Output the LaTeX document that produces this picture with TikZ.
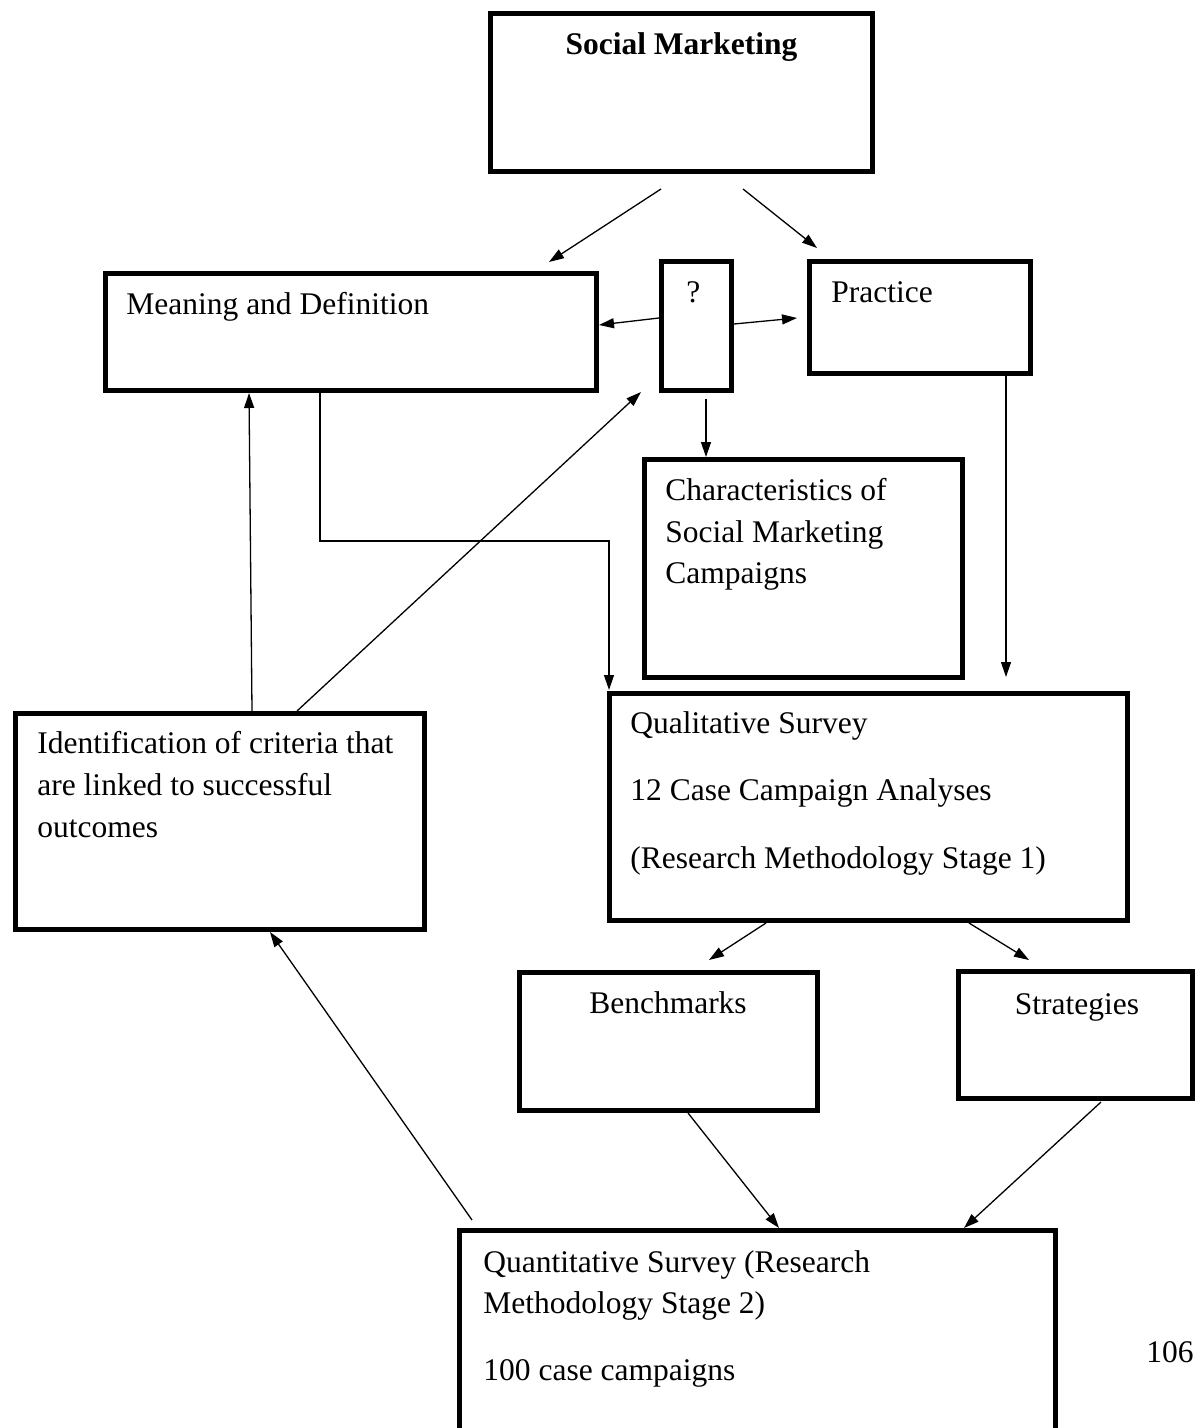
\documentclass[tikz,border=0pt]{standalone}
\usepackage{fontspec}
\setmainfont{Liberation Serif}
\usetikzlibrary{arrows.meta}
\begin{document}
\begin{tikzpicture}[x=0.5pt,y=-0.5pt,
  box/.style={draw, line width=2.4pt, inner sep=0pt, rectangle},
  lbl/.style={inner sep=0pt, font=\fontsize{15.75}{19}\selectfont},
  conn/.style={line width=0.65pt, -{Triangle[length=7.5pt,width=5pt]}}]
\useasboundingbox (0,0) rectangle (1195,1428);
\clip (0,0) rectangle (1195,1428);
% boxes
\node[box, minimum width=191pt, minimum height=79pt] (social) at (681.5,92.5) {};
\node[box, minimum width=245.5pt, minimum height=58.5pt] (meaning) at (351,332) {};
\node[box, minimum width=35pt, minimum height=64.5pt] (q) at (696.5,326) {};
\node[box, minimum width=110.5pt, minimum height=56pt] (practice) at (920,317.5) {};
\node[box, minimum width=159pt, minimum height=109pt] (charac) at (803.5,568.5) {};
\node[box, minimum width=204.5pt, minimum height=108pt] (ident) at (220,821.5) {};
\node[box, minimum width=259pt, minimum height=113.5pt] (qual) at (868.5,807) {};
\node[box, minimum width=149pt, minimum height=69pt] (bench) at (668.5,1041.5) {};
\node[box, minimum width=117pt, minimum height=63.6pt] (strat) at (1075.5,1035) {};
\node[box, minimum width=298pt, minimum height=114.8pt] (quant) at (757.5,1345.2) {};
% texts
\node[lbl, anchor=base, font=\fontsize{15.75}{19}\selectfont\bfseries] (socialt) at (681.5,55) {Social Marketing};
\node[lbl, anchor=base west] (meaningt) at (126,315) {Meaning and Definition};
\node[lbl, anchor=base west] (qt) at (686,303) {?};
\node[lbl, anchor=base west] (practicet) at (831,303) {Practice};
\node[lbl, anchor=base west] (charac1) at (665,500) {Characteristics of};
\node[lbl, anchor=base west] (charac2) at (665,542) {Social Marketing};
\node[lbl, anchor=base west] (charac3) at (665,583) {Campaigns};
\node[lbl, anchor=base west] (ident1) at (37,753) {Identification of criteria that};
\node[lbl, anchor=base west] (ident2) at (37,795) {are linked to successful};
\node[lbl, anchor=base west] (ident3) at (37,837) {outcomes};
\node[lbl, anchor=base west] (qual1) at (630,733) {Qualitative Survey};
\node[lbl, anchor=base west] (qual2) at (630,800) {12 Case Campaign Analyses};
\node[lbl, anchor=base west] (qual3) at (630,868) {(Research Methodology Stage 1)};
\node[lbl, anchor=base] (bencht) at (668,1013) {Benchmarks};
\node[lbl, anchor=base] (stratt) at (1077,1014) {Strategies};
\node[lbl, anchor=base west] (quant1) at (483,1272) {Quantitative Survey (Research};
\node[lbl, anchor=base west] (quant2) at (483,1313) {Methodology Stage 2)};
\node[lbl, anchor=base west] (quant3) at (483,1380) {100 case campaigns};
\node[lbl, anchor=base east] (pagenum) at (1194,1362) {106};
% connector end points
\coordinate (s1) at (661,189);   \coordinate (m1) at (549,262);
\coordinate (s2) at (743,189);   \coordinate (p1) at (817,248);
\coordinate (q1) at (659,318);   \coordinate (m2) at (599,325);
\coordinate (q2) at (734,324);   \coordinate (p2) at (797,318);
\coordinate (q3) at (706,399);   \coordinate (c1) at (706,457);
\coordinate (m3) at (320,393);   \coordinate (k1) at (320,541);
\coordinate (k2) at (609,541);   \coordinate (u1) at (609,690);
\coordinate (p3) at (1006,376);  \coordinate (u2) at (1006,677);
\coordinate (i1) at (252,711);   \coordinate (m4) at (249,393);
\coordinate (i2) at (297,711);   \coordinate (q4) at (641,392);
\coordinate (u3) at (766,923);   \coordinate (b1) at (709,960);
\coordinate (u4) at (969,923);   \coordinate (t1) at (1029,960);
\coordinate (b2) at (688,1113);  \coordinate (n1) at (779,1228);
\coordinate (t2) at (1101,1102); \coordinate (n2) at (964,1228);
\coordinate (n3) at (472,1220);  \coordinate (i3) at (270,932);
% connectors
\draw[conn] (s1) -- (m1);
\draw[conn] (s2) -- (p1);
\draw[conn] (q1) -- (m2);
\draw[conn] (q2) -- (p2);
\draw[conn] (q3) -- (c1);
\draw[conn] (m3) -- (k1) -- (k2) -- (u1);
\draw[conn] (p3) -- (u2);
\draw[conn] (i1) -- (m4);
\draw[conn] (i2) -- (q4);
\draw[conn] (u3) -- (b1);
\draw[conn] (u4) -- (t1);
\draw[conn] (b2) -- (n1);
\draw[conn] (t2) -- (n2);
\draw[conn] (n3) -- (i3);
\end{tikzpicture}
\end{document}
